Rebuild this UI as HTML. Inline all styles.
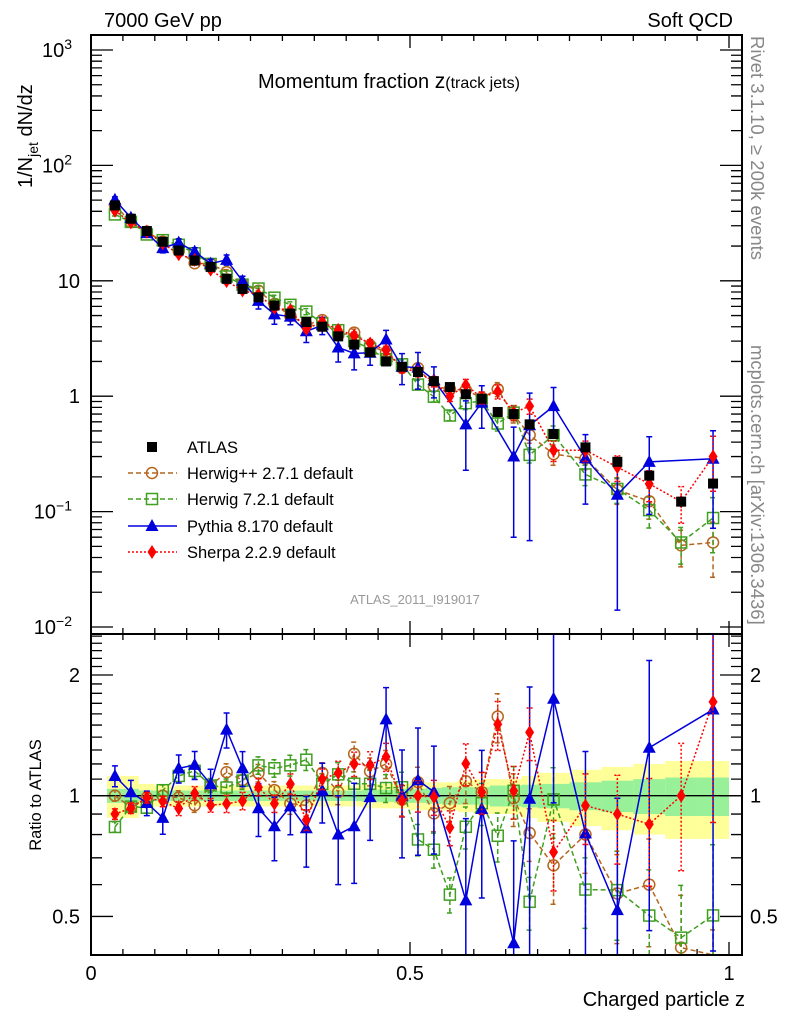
<!DOCTYPE html>
<html><head><meta charset="utf-8"><style>
html,body{margin:0;padding:0;background:#fff;width:786px;height:1024px;overflow:hidden}
svg{display:block}
svg text{font-family:"Liberation Sans",sans-serif}
</style></head><body>
<svg id="chart" width="786" height="1024" viewBox="0 0 786 1024" xmlns="http://www.w3.org/2000/svg">
<defs>
<clipPath id="cm"><rect x="91" y="35" width="651" height="599"/></clipPath>
<clipPath id="cr"><rect x="91" y="634" width="651" height="321"/></clipPath>
</defs>
<rect x="0" y="0" width="786" height="1024" fill="#fff"/>
<g id="bandG" clip-path="url(#cr)"></g>
<line x1="91" y1="795.7" x2="742" y2="795.7" stroke="#000" stroke-width="1.3"/>
<g id="mainG" clip-path="url(#cm)"></g>
<g id="ratioG" clip-path="url(#cr)"></g>
<g id="axesG"></g>
<text x="104" y="27" font-size="20">7000 GeV pp</text>
<text x="733" y="27" font-size="20" text-anchor="end">Soft QCD</text>
<text x="258" y="88" font-size="20">Momentum fraction <tspan font-size="21">z</tspan><tspan font-size="16">(track jets)</tspan></text>
<text x="415" y="604" font-size="13" fill="#999" text-anchor="middle">ATLAS_2011_I919017</text>
<text transform="translate(32,188) rotate(-90)" font-size="20">1/N<tspan font-size="14" dy="6">jet</tspan><tspan dy="-6"> dN/dz</tspan></text>
<text transform="translate(41,795) rotate(-90)" font-size="16.5" text-anchor="middle">Ratio to ATLAS</text>
<text x="745" y="1006" font-size="20" text-anchor="end">Charged particle z</text>
<text transform="translate(751,36) rotate(90)" font-size="18.5" fill="#888">Rivet 3.1.10, ≥ 200k events</text>
<text transform="translate(751,345) rotate(90)" font-size="18.5" fill="#888">mcplots.cern.ch [arXiv:1306.3436]</text>
<g id="legendG"></g>
</svg>
<script>
const zCenters=[0.0375,0.0625,0.0875,0.1125,0.1375,0.1625,0.1875,0.2125,0.2375,0.2625,0.2875,0.3125,0.3375,0.3625,0.3875,0.4125,0.4375,0.4625,0.4875,0.5125,0.5375,0.5625,0.5875,0.6125,0.6375,0.6625,0.6875,0.725,0.775,0.825,0.875,0.925,0.975];
const binHalfWidth=[0.0125,0.0125,0.0125,0.0125,0.0125,0.0125,0.0125,0.0125,0.0125,0.0125,0.0125,0.0125,0.0125,0.0125,0.0125,0.0125,0.0125,0.0125,0.0125,0.0125,0.0125,0.0125,0.0125,0.0125,0.0125,0.0125,0.0125,0.025,0.025,0.025,0.025,0.025,0.025];
const atlas=[45,34.5,27,21.8,18.3,15,13.2,10.4,8.5,7.2,6.1,5.2,4.4,4.0,3.3,2.8,2.4,2.0,1.8,1.62,1.35,1.2,1.04,0.95,0.73,0.70,0.57,0.47,0.36,0.27,0.205,0.122,0.175];
const atlasStat=[0.04,0.04,0.03,0.03,0.03,0.03,0.03,0.03,0.03,0.03,0.03,0.03,0.03,0.03,0.03,0.03,0.035,0.035,0.04,0.04,0.045,0.05,0.05,0.05,0.06,0.06,0.065,0.07,0.08,0.09,0.1,0.11,0.11];
const atlasTot=[0.12,0.12,0.07,0.06,0.06,0.06,0.06,0.06,0.06,0.06,0.06,0.06,0.06,0.06,0.06,0.06,0.07,0.07,0.07,0.08,0.08,0.08,0.09,0.1,0.1,0.1,0.12,0.14,0.16,0.18,0.2,0.22,0.22];
const herwigpp=[45,32.3,26.7,21.8,18.1,14.2,14.0,11.9,9.3,8.2,6.3,4.97,4.16,4.56,3.37,3.56,2.76,2.4,1.76,1.75,1.22,1.15,1.13,0.97,1.15,0.69,0.46,0.315,0.288,0.154,0.123,0.051,0.054];
const herwig7=[37.6,32.4,25.2,22.5,20.5,17.3,14.0,10.9,9.27,8.57,7.14,6.19,5.41,4.28,3.73,3.0,2.57,2.09,1.89,1.26,0.99,0.68,0.87,0.91,0.58,0.72,0.31,0.46,0.21,0.157,0.103,0.054,0.088];
const pythia=[50.4,35.2,25.9,19.2,21.4,17.9,14.1,15.2,9.95,6.7,5.12,4.89,3.65,4.12,2.64,2.35,2.38,3.1,1.8,1.77,1.38,null,0.57,0.88,null,0.30,0.56,0.82,0.29,0.14,0.27,null,0.287];
const sherpa=[40.5,32.1,26.7,21.1,17.0,15.2,12.5,9.93,8.25,7.56,5.83,5.56,3.83,4.4,3.76,3.36,2.86,2.5,1.75,1.62,1.34,1.0,1.25,0.97,1.10,0.72,0.82,0.34,0.34,0.243,0.174,0.122,0.30];
const pythiaErr=[0.06,0.07,0.07,0.09,0.08,0.08,0.09,0.1,0.1,0.15,0.18,0.15,0.2,0.17,0.25,0.28,0.22,0.2,0.3,0.35,0.3,null,0.6,0.4,null,0.8,0.9,0.45,0.6,0.9,0.65,null,0.75];
const genErr=[0.03,0.03,0.03,0.03,0.04,0.04,0.04,0.05,0.05,0.05,0.05,0.06,0.06,0.06,0.07,0.07,0.08,0.08,0.09,0.09,0.1,0.1,0.12,0.12,0.14,0.15,0.15,0.2,0.2,0.25,0.3,0.35,0.5];
const xTickLabels=["0","0.5","1"];
const xTickValues=[0,0.5,1];
const ratioTickLabels=["2","1","0.5"];
const ratioTickValues=[2,1,0.5];
const legendLabels=["ATLAS","Herwig++ 2.7.1 default","Herwig 7.2.1 default","Pythia 8.170 default","Sherpa 2.2.9 default"];

const NS="http://www.w3.org/2000/svg";
const X=z=>91+638*z;
const Y=v=>50+(3-Math.log10(v))*115.4;
const R=r=>795.7-401*Math.log10(r);
function mk(tag,attrs,parent){const e=document.createElementNS(NS,tag);for(const k in attrs)e.setAttribute(k,attrs[k]);parent.appendChild(e);return e;}
const mainG=document.getElementById('mainG'),ratioG=document.getElementById('ratioG'),bandG=document.getElementById('bandG'),axesG=document.getElementById('axesG'),legendG=document.getElementById('legendG');

zCenters.forEach((z,i)=>{
  const x0=X(z-binHalfWidth[i]),x1=X(z+binHalfWidth[i]);
  let e=mk('rect',{x:x0,y:R(1+atlasTot[i]),width:x1-x0,height:R(1-atlasTot[i])-R(1+atlasTot[i]),fill:'#ffff99'},bandG);
  
  
});
zCenters.forEach((z,i)=>{
  const x0=X(z-binHalfWidth[i]),x1=X(z+binHalfWidth[i]);
  let e=mk('rect',{x:x0,y:R(1+atlasStat[i]),width:x1-x0,height:R(1-atlasStat[i])-R(1+atlasStat[i]),fill:'#98f098'},bandG);
  
  
});

function marker(g,type,x,y,color){
  let e;
  if(type==='atlas')e=mk('rect',{x:x-5,y:y-5,width:10,height:10,fill:'#000'},g);
  else if(type==='circle')e=mk('circle',{cx:x,cy:y,r:5.5,fill:'none',stroke:color,'stroke-width':1.5},g);
  else if(type==='square')e=mk('rect',{x:x-5.5,y:y-5.5,width:11,height:11,fill:'none',stroke:color,'stroke-width':1.5},g);
  else if(type==='tri')e=mk('polygon',{points:`${x},${y-7} ${x-6.5},${y+5} ${x+6.5},${y+5}`,fill:color},g);
  else e=mk('polygon',{points:`${x},${y-7} ${x-4.5},${y} ${x},${y+7} ${x+4.5},${y}`,fill:color},g);
  return e;
}
const series=[
 {name:'herwigpp',vals:herwigpp,err:genErr,color:'#b5651d',dash:'5,3',type:'circle'},
 {name:'herwig7',vals:herwig7,err:genErr,color:'#3f9f1f',dash:'5,3',type:'square'},
 {name:'pythia',vals:pythia,err:pythiaErr,color:'#0000dd',dash:'',type:'tri'},
 {name:'sherpa',vals:sherpa,err:genErr,color:'#ff0000',dash:'2,2',type:'diamond'}
];
function drawSeries(s,g,fy,useRatio,top,bot){
  const pts=[];
  s.vals.forEach((v,i)=>{if(v==null)return;const val=useRatio?v/atlas[i]:v;pts.push([X(zCenters[i]),fy(val),val,s.err[i]]);});
  let l=mk('polyline',{points:pts.map(p=>p[0]+','+Math.min(bot,Math.max(top,p[1]))).join(' '),fill:'none',stroke:s.color,'stroke-width':1.5,'stroke-dasharray':s.dash},g);
  
  
  pts.forEach(p=>{
    const lo=Math.max(p[2]*(1-p[3]),1e-4),hi=p[2]*(1+p[3]);
    const yl=Math.min(bot,Math.max(top,fy(lo))),yh=Math.min(bot,Math.max(top,fy(hi)));
    let eb=mk('path',{d:`M${p[0]},${yl}V${yh}M${p[0]-3},${yl}h6M${p[0]-3},${yh}h6`,stroke:s.color,'stroke-width':1.5,'stroke-dasharray':s.dash,fill:'none'},g);
    
    
    if(p[1]<top||p[1]>bot)return;
    let m=marker(g,s.type,p[0],p[1],s.color);
    
    
  });
}
series.forEach(s=>drawSeries(s,mainG,Y,false,35,634));
atlas.forEach((v,i)=>{let m=marker(mainG,'atlas',X(zCenters[i]),Y(v));
  
  });
series.forEach(s=>drawSeries(s,ratioG,R,true,634,955));

let f=mk('rect',{x:91,y:35,width:651,height:599,fill:'none',stroke:'#000','stroke-width':2},axesG);


f=mk('rect',{x:91,y:634,width:651,height:321,fill:'none',stroke:'#000','stroke-width':2},axesG);


let d='';
for(let k=0;k<=20;k++){const z=k*0.05,x=X(z),L=(k%10===0)?13:6;
  d+=`M${x},35v${L}M${x},634v${-L}M${x},634v${L}M${x},955v${-L}`;}
for(let p=-2;p<=3;p++){for(let m=1;m<10;m++){const v=m*Math.pow(10,p);const y=Y(v);if(y<35||y>634)continue;const L=m===1?22:11;d+=`M91,${y}h${L}M742,${y}h${-L}`;}}
for(let k=4;k<=25;k++){const r=k/10;const y=R(r);if(y<634||y>955)continue;const L=(k===5||k===10||k===20)?22:11;d+=`M91,${y}h${L}M742,${y}h${-L}`;}
let tk=mk('path',{d:d,stroke:'#000','stroke-width':1.3,fill:'none'},axesG);


xTickValues.forEach((v,i)=>{let t=mk('text',{x:X(v),y:980,'font-size':20,'text-anchor':'middle'},axesG);t.textContent=xTickLabels[i];
  
  });
ratioTickValues.forEach((v,i)=>{
  let t=mk('text',{x:80,y:R(v)+7,'font-size':20,'text-anchor':'end'},axesG);t.textContent=ratioTickLabels[i];
  
  
  t=mk('text',{x:750,y:R(v)+7,'font-size':20},axesG);t.textContent=ratioTickLabels[i];
  
  
});
[[3,'10','3'],[2,'10','2'],[1,'10',''],[0,'1',''],[-1,'10','−1'],[-2,'10','−2']].forEach(a=>{
  let t=mk('text',{x:a[2]?72:80,y:Y(Math.pow(10,a[0]))+7,'font-size':20,'text-anchor':'end'},axesG);
  t.textContent=a[1];
  
  
  if(a[2]){let s=mk('tspan',{'font-size':14,dy:-8},t);s.textContent=a[2];}
});
const legY=[447,473,499,526,552];
const legStyles=[null,series[0],series[1],series[2],series[3]];
legendLabels.forEach((lab,i)=>{
  const y=legY[i];
  const g=mk('g',{},legendG);
  
  
  const s=legStyles[i];
  if(s){mk('line',{x1:128,y1:y,x2:177,y2:y,stroke:s.color,'stroke-width':1.5,'stroke-dasharray':s.dash},g);marker(g,s.type,152,y,s.color);}
  else marker(g,'atlas',152,y);
  const t=mk('text',{x:187,y:y+6,'font-size':16.5},g);t.textContent=lab;
});
</script>
</body></html>
